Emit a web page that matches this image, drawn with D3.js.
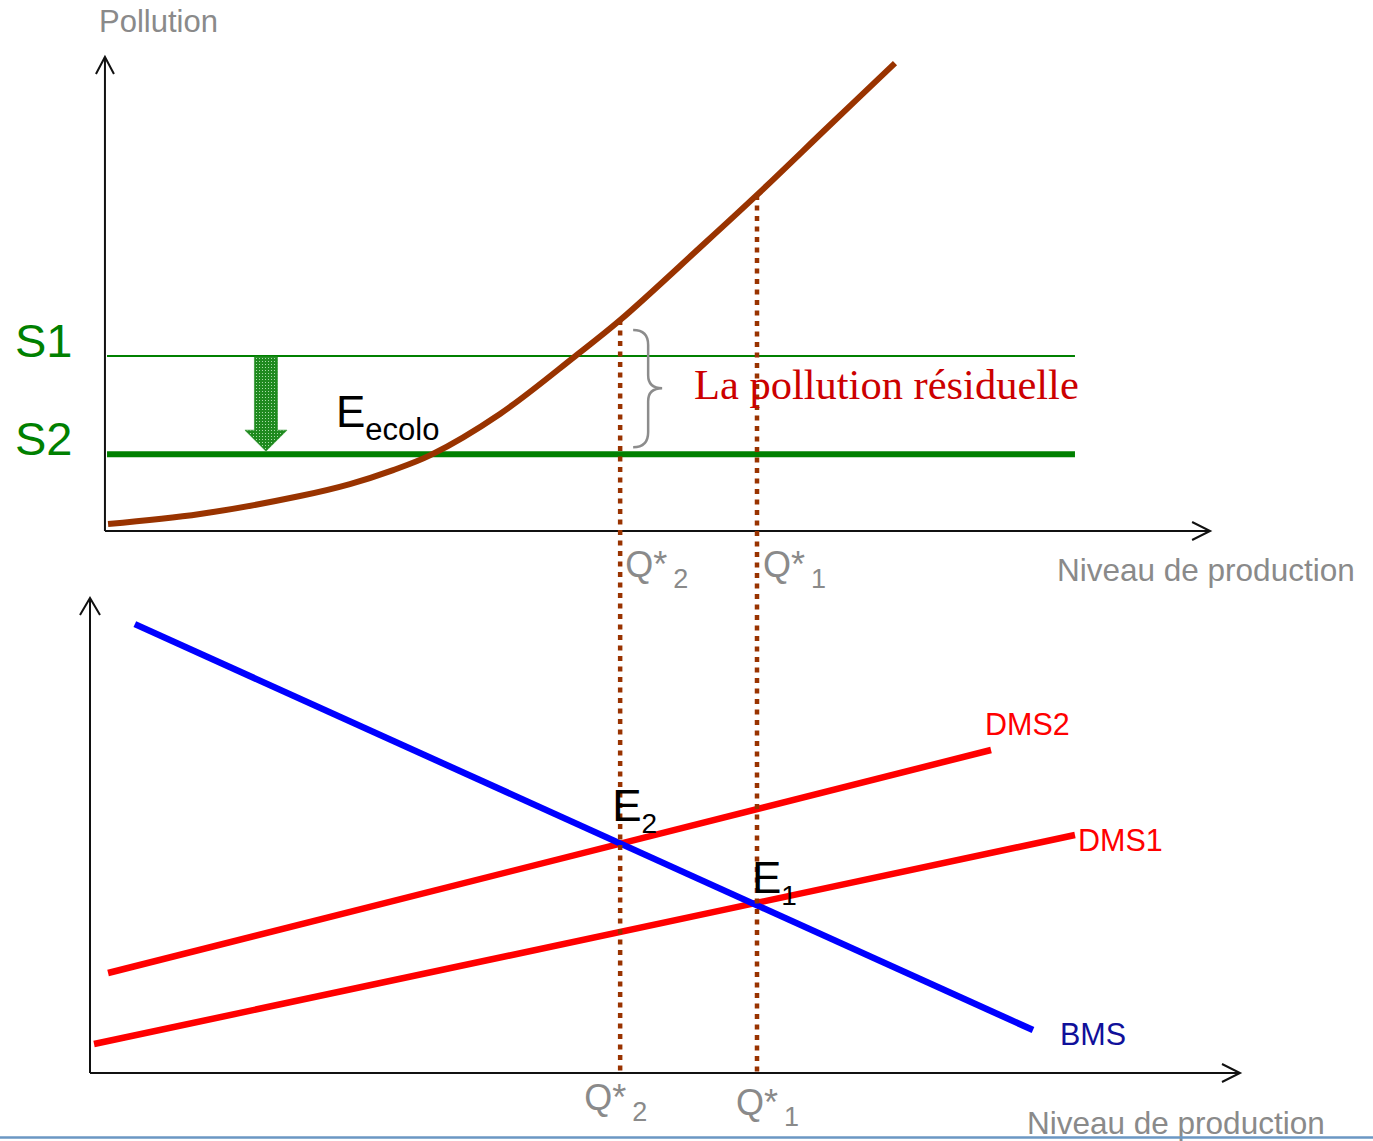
<!DOCTYPE html>
<html>
<head>
<meta charset="utf-8">
<script src="https://cdn.jsdelivr.net/npm/d3@7"></script>
<style>
  html, body { margin: 0; padding: 0; background: #ffffff; }
  svg { display: block; font-family: "Liberation Sans", Arial, sans-serif; }
</style>
</head>
<body>
<script>
// ---------- DATA ----------
// Top chart: pollution as a function of production level
const pollutionQ     = [1.57, 9.57, 18.26, 22.6, 26.3, 29.6, 35.65, 42.2, 46.1, 53.0, 58.0, 64.35, 70.0];
const pollutionLevel = [1.48, 3.59, 7.38, 9.9, 12.8, 16.0, 24.7, 36.9, 44.5, 59.7, 70.9, 85.65, 98.7];

// Pollution standards
const standardNames  = ["S1", "S2"];
const standardValues = [36.9, 16.2];
const standardQRange = [1.48, 85.65];

// Optimal production levels
const qStarNames  = ["2", "1"];
const qStarValues = [46.1, 58.0];
const qStarPollution = [44.5, 70.9];

// Bottom chart: marginal benefit / marginal damage lines
const bmsQ  = [3.9, 82.0];   const bmsV  = [94.5, 9.05];
const dms2Q = [1.57, 78.35]; const dms2V = [21.05, 68.0];
const dms1Q = [0.35, 85.65]; const dms1V = [6.1, 50.1];
const equilibriumNames  = ["2", "1"];
const equilibriumValues = [48.0, 35.2];

// Axis extents (in data units)
const topAxisQ = [1.3, 97.4];
const botAxisQ = [0, 100];
const arrowQ = 15.3;

// ---------- SETUP ----------
const W = 1373, H = 1141;
const svg = d3.select("body").append("svg").attr("width", W).attr("height", H);

const x = d3.scaleLinear().domain([0, 100]).range([90, 1240]);
const yTop = d3.scaleLinear().domain([0, 100]).range([531, 57]);
const yBot = d3.scaleLinear().domain([0, 100]).range([1073, 598]);

const gray = "#8a8a8a";
const brown = "#993300";

// pattern for the green arrow
const defs = svg.append("defs");
const pat = defs.append("pattern").attr("id", "greenPat").attr("width", 3).attr("height", 3)
  .attr("patternUnits", "userSpaceOnUse");
pat.append("rect").attr("width", 3).attr("height", 3).attr("fill", "#1f8a1f");
pat.append("rect").attr("x", 1).attr("y", 1).attr("width", 1).attr("height", 1).attr("fill", "#a8dca8");

// ---------- AXES ----------
function axisArrow(g, x1, y1, x2, y2) {
  g.append("line").attr("x1", x1).attr("y1", y1).attr("x2", x2).attr("y2", y2)
    .attr("stroke", "#111").attr("stroke-width", 2);
}
const axes = svg.append("g");
// top
axisArrow(axes, x(topAxisQ[0]), yTop(0), x(topAxisQ[0]), yTop(100));
axisArrow(axes, x(topAxisQ[0]), yTop(0), x(topAxisQ[1]), yTop(0));
axes.append("path").attr("d", `M${x(topAxisQ[0]) - 9},${yTop(100) + 17} L${x(topAxisQ[0])},${yTop(100)} L${x(topAxisQ[0]) + 9},${yTop(100) + 17}`)
  .attr("fill", "none").attr("stroke", "#111").attr("stroke-width", 2);
axes.append("path").attr("d", `M${x(topAxisQ[1]) - 18},${yTop(0) - 9} L${x(topAxisQ[1])},${yTop(0)} L${x(topAxisQ[1]) - 18},${yTop(0) + 9}`)
  .attr("fill", "none").attr("stroke", "#111").attr("stroke-width", 2);
// bottom
axisArrow(axes, x(botAxisQ[0]), yBot(0), x(botAxisQ[0]), yBot(100));
axisArrow(axes, x(botAxisQ[0]), yBot(0), x(botAxisQ[1]), yBot(0));
axes.append("path").attr("d", `M${x(botAxisQ[0]) - 10},${yBot(100) + 17} L${x(botAxisQ[0])},${yBot(100)} L${x(botAxisQ[0]) + 10},${yBot(100) + 17}`)
  .attr("fill", "none").attr("stroke", "#111").attr("stroke-width", 2);
axes.append("path").attr("d", `M${x(botAxisQ[1]) - 18},${yBot(0) - 9} L${x(botAxisQ[1])},${yBot(0)} L${x(botAxisQ[1]) - 18},${yBot(0) + 9}`)
  .attr("fill", "none").attr("stroke", "#111").attr("stroke-width", 2);

// axis titles
svg.append("text").attr("x", 99).attr("y", 32).attr("fill", gray).attr("font-size", 31).text("Pollution");
svg.append("text").attr("x", 1057).attr("y", 581).attr("fill", gray).attr("font-size", 31.5).text("Niveau de production");
svg.append("text").attr("x", 1027).attr("y", 1134).attr("fill", gray).attr("font-size", 31.5).text("Niveau de production");

// ---------- STANDARDS ----------
standardValues.forEach((v, i) => {
  svg.append("line").attr("x1", x(standardQRange[0])).attr("x2", x(standardQRange[1]))
    .attr("y1", yTop(v)).attr("y2", yTop(v))
    .attr("stroke", "#008000").attr("stroke-width", i === 0 ? 2 : 6);
  svg.append("text").attr("x", 15).attr("y", yTop(v) + 1).attr("fill", "#008000")
    .attr("font-size", 47).text(standardNames[i]);
});

// green block arrow from S1 to S2
{
  const cx = x(arrowQ), top = yTop(standardValues[0]) + 1, tip = yTop(standardValues[1]) - 3;
  const sw = 11.5, hw = 21, hl = 21;
  svg.append("path")
    .attr("d", `M${cx - sw},${top} L${cx + sw},${top} L${cx + sw},${tip - hl} L${cx + hw},${tip - hl} L${cx},${tip} L${cx - hw},${tip - hl} L${cx - sw},${tip - hl} Z`)
    .attr("fill", "url(#greenPat)").attr("stroke", "#3a9a3a").attr("stroke-width", 0.8);
}

// ---------- POLLUTION CURVE ----------
const curveLine = d3.line().x(d => x(d[0])).y(d => yTop(d[1])).curve(d3.curveCatmullRom.alpha(0.5));
svg.append("path").datum(pollutionQ.map((q, i) => [q, pollutionLevel[i]]))
  .attr("d", curveLine).attr("fill", "none").attr("stroke", brown).attr("stroke-width", 6);

// ---------- BOTTOM LINES ----------
function seg(qs, vs, color) {
  svg.append("line").attr("x1", x(qs[0])).attr("y1", yBot(vs[0])).attr("x2", x(qs[1])).attr("y2", yBot(vs[1]))
    .attr("stroke", color).attr("stroke-width", 6.5);
}
seg(dms2Q, dms2V, "#ff0000");
seg(dms1Q, dms1V, "#ff0000");
seg(bmsQ, bmsV, "#0000ff");

svg.append("text").attr("x", x(dms2Q[1]) - 6).attr("y", yBot(dms2V[1]) - 15).attr("fill", "#ff0000").attr("font-size", 30.5).text("DMS2");
svg.append("text").attr("x", x(dms1Q[1]) + 3).attr("y", yBot(dms1V[1]) + 16).attr("fill", "#ff0000").attr("font-size", 30.5).text("DMS1");
svg.append("text").attr("x", x(bmsQ[1]) + 27).attr("y", yBot(bmsV[1]) + 15).attr("fill", "#10109a").attr("font-size", 30.5).text("BMS");

// ---------- Q* VERTICAL DOTTED LINES ----------
qStarValues.forEach((q, i) => {
  svg.append("line").attr("x1", x(q)).attr("x2", x(q))
    .attr("y1", yTop(qStarPollution[i])).attr("y2", yBot(0))
    .attr("stroke", brown).attr("stroke-width", 4.5).attr("stroke-dasharray", "5,5.5");
});

// Q* labels
function qLabel(px, py, sub) {
  const t = svg.append("text").attr("x", px).attr("y", py).attr("fill", gray).attr("font-size", 36);
  t.append("tspan").text("Q*");
  t.append("tspan").attr("font-size", 27).attr("dx", 6).attr("dy", 11).text(sub);
}
qLabel(x(qStarValues[0]) + 5, 577, qStarNames[0]);
qLabel(x(qStarValues[1]) + 6, 577, qStarNames[1]);
qLabel(x(qStarValues[0]) - 36, 1110, qStarNames[0]);
qLabel(x(qStarValues[1]) - 21, 1115, qStarNames[1]);

// ---------- E LABELS ----------
function eLabel(px, py, sub, subSize, dy) {
  const t = svg.append("text").attr("x", px).attr("y", py).attr("fill", "#000").attr("font-size", 44);
  t.append("tspan").text("E");
  t.append("tspan").attr("font-size", subSize).attr("dy", dy).text(sub);
}
eLabel(x(qStarValues[0]) - 8, yBot(equilibriumValues[0]) - 24, equilibriumNames[0], 28, 12);
eLabel(x(qStarValues[1]) - 5, yBot(equilibriumValues[1]) - 13, equilibriumNames[1], 28, 12);
eLabel(336, 427, "ecolo", 31, 13);

// ---------- BRACE ----------
{
  const bx = x(qStarValues[0]) + 13;
  const y0 = yTop(qStarPollution[0]) + 10, y1 = yTop(standardValues[1]) - 7;
  const ym = (y0 + y1) / 2 - 0.5;
  const d = `M${bx},${y0} Q${bx + 15},${y0} ${bx + 15},${y0 + 15} L${bx + 15},${ym - 13} Q${bx + 15},${ym} ${bx + 29},${ym} ` +
            `Q${bx + 15},${ym} ${bx + 15},${ym + 13} L${bx + 15},${y1 - 15} Q${bx + 15},${y1} ${bx},${y1}`;
  svg.append("path").attr("d", d).attr("fill", "none").attr("stroke", "#8c8c8c").attr("stroke-width", 2.5);
}
svg.append("text").attr("x", 694).attr("y", 399).attr("fill", "#cc0000")
  .style("font-family", "'Liberation Serif', 'Times New Roman', serif").attr("font-size", 42.5)
  .text("La pollution résiduelle");

// ---------- BOTTOM RULE ----------
svg.append("line").attr("x1", 0).attr("x2", W).attr("y1", 1137.5).attr("y2", 1137.5)
  .attr("stroke", "#6b97c3").attr("stroke-width", 2.5);
</script>
</body>
</html>
